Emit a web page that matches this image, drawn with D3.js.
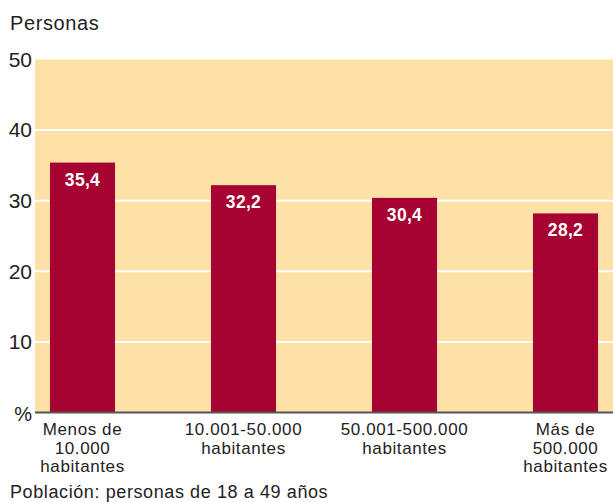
<!DOCTYPE html>
<html>
<head>
<meta charset="utf-8">
<script src="https://cdn.jsdelivr.net/npm/d3@7"></script>
<style>
  html, body { margin: 0; padding: 0; background: #fff; }
  svg { display: block; }
  text { font-family: "Liberation Sans", Arial, sans-serif; }
</style>
</head>
<body>
<svg id="chart" width="613" height="502"></svg>
<script>
// Tamaño del municipio de residencia
const categories = [
  ["Menos de", "10.000", "habitantes"],
  ["10.001-50.000", "habitantes"],
  ["50.001-500.000", "habitantes"],
  ["Más de", "500.000", "habitantes"]
];
const values = [35.4, 32.2, 30.4, 28.2];
const yTicks = [10, 20, 30, 40, 50];
const valueLabels = ["35,4", "32,2", "30,4", "28,2"];

const svg = d3.select("#chart");
const plotLeft = 35, plotRight = 613, plotTop = 59.5, plotBottom = 412.5;

const x = d3.scaleBand()
  .domain(d3.range(values.length))
  .range([plotLeft, plotRight])
  .paddingInner(0.596)
  .paddingOuter(0.093);

const y = d3.scaleLinear().domain([0, 50]).range([plotBottom, plotTop]);

// plot background
svg.append("rect")
  .attr("x", plotLeft).attr("y", y(50))
  .attr("width", plotRight - plotLeft).attr("height", y(0) - y(50))
  .attr("fill", "#fde1a7");

// gridlines
svg.append("g").selectAll("line")
  .data(yTicks.filter(d => d < 50))
  .join("line")
  .attr("x1", plotLeft).attr("x2", plotRight)
  .attr("y1", d => y(d)).attr("y2", d => y(d))
  .attr("stroke", "#fff").attr("stroke-width", 2);

// bars
svg.append("g").selectAll("rect")
  .data(values)
  .join("rect")
  .attr("x", (d, i) => x(i))
  .attr("width", x.bandwidth())
  .attr("y", d => y(d))
  .attr("height", d => y(0) - y(d))
  .attr("fill", "#a60232");

// value labels
svg.append("g").selectAll("text")
  .data(values)
  .join("text")
  .attr("x", (d, i) => x(i) + x.bandwidth() / 2)
  .attr("y", d => y(d) + 23)
  .attr("text-anchor", "middle")
  .attr("fill", "#fff")
  .attr("font-weight", "bold")
  .attr("font-size", 17.5)
  .attr("letter-spacing", 0.3)
  .text((d, i) => valueLabels[i]);

// baseline
svg.append("line")
  .attr("x1", plotLeft).attr("x2", plotRight)
  .attr("y1", y(0)).attr("y2", y(0))
  .attr("stroke", "#555").attr("stroke-width", 2);

// y axis labels
const yAxis = d3.axisLeft(y).tickValues(yTicks).tickSize(0).tickPadding(3)
  .tickFormat(d3.format("d"));
const gy = svg.append("g").attr("transform", `translate(${plotLeft},0)`).call(yAxis);
gy.select(".domain").remove();
gy.selectAll("text")
  .attr("font-family", "'Liberation Sans Narrow', 'Roboto Condensed', 'Liberation Sans', sans-serif")
  .attr("font-size", 21)
  .attr("fill", "#222");

svg.append("text")
  .attr("x", 32).attr("y", 421)
  .attr("text-anchor", "end")
  .attr("font-family", "'Liberation Sans Narrow', 'Liberation Sans', sans-serif")
  .attr("font-size", 20)
  .attr("fill", "#222")
  .text("%");

// category labels, one text per line
const catGroups = svg.append("g").selectAll("g")
  .data(categories)
  .join("g")
  .attr("transform", (d, i) => `translate(${x(i) + x.bandwidth() / 2},0)`);
catGroups.selectAll("text")
  .data(d => d)
  .join("text")
  .attr("x", 0)
  .attr("y", (d, i) => 435 + i * 18.5)
  .attr("text-anchor", "middle")
  .attr("font-size", 17)
  .attr("letter-spacing", 0.6)
  .attr("fill", "#222")
  .text(d => d);

// title and footnote
svg.append("text")
  .attr("x", 10).attr("y", 30)
  .attr("font-size", 20)
  .attr("letter-spacing", 0.6)
  .attr("fill", "#222")
  .text("Personas");

svg.append("text")
  .attr("x", 10).attr("y", 498)
  .attr("font-size", 18)
  .attr("letter-spacing", 0.6)
  .attr("fill", "#222")
  .text("Población: personas de 18 a 49 años");
</script>
</body>
</html>
